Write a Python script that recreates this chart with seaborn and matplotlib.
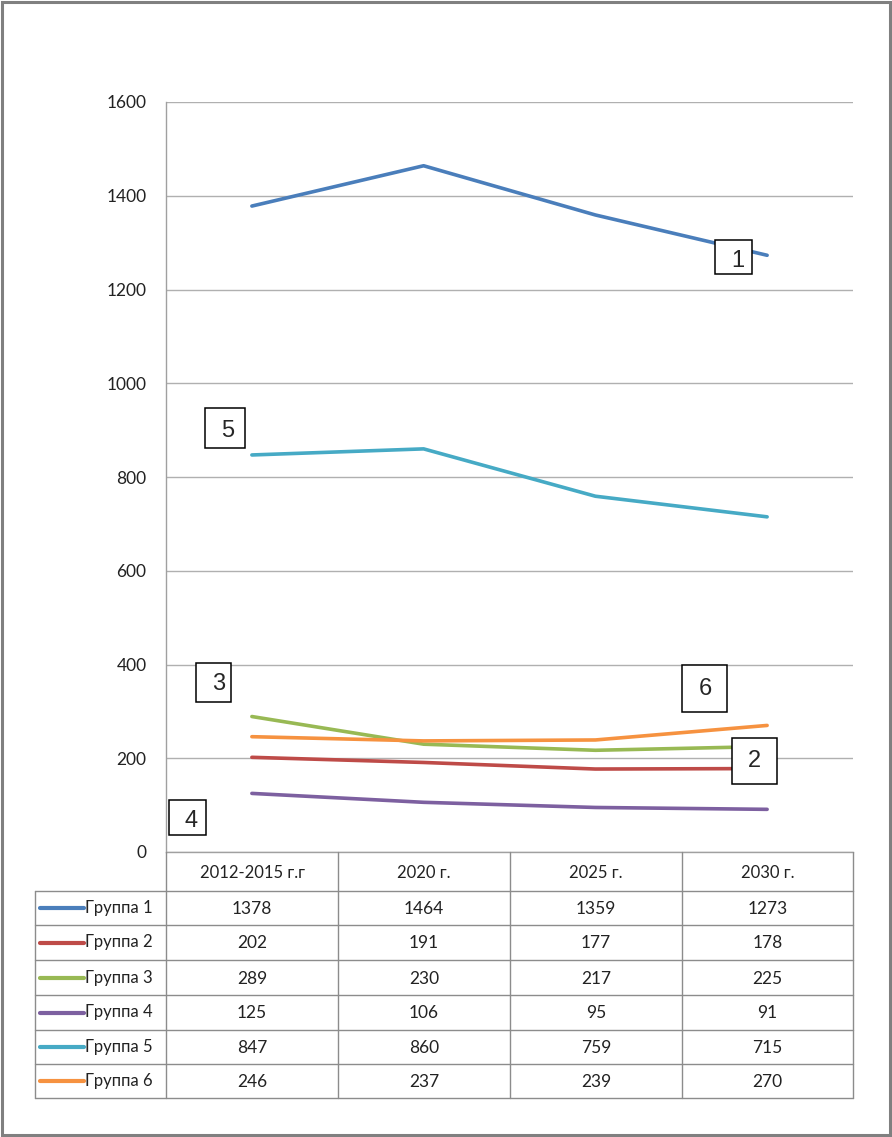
import pandas as pd
import matplotlib
matplotlib.use('Agg')
import matplotlib.pyplot as plt
import seaborn as sns
from matplotlib.patches import Rectangle

# data
periods = ['2012-2015 г.г', '2020 г.', '2025 г.', '2030 г.']
groups = ['Группа 1', 'Группа 2', 'Группа 3', 'Группа 4', 'Группа 5', 'Группа 6']
g1 = [1378, 1464, 1359, 1273]
g2 = [202, 191, 177, 178]
g3 = [289, 230, 217, 225]
g4 = [125, 106, 95, 91]
g5 = [847, 860, 759, 715]
g6 = [246, 237, 239, 270]
values = [g1, g2, g3, g4, g5, g6]
colors = ['#4A7EBB', '#BE4B48', '#98B954', '#7D60A0', '#46AAC5', '#F69240']

rows = []
for name, vals in zip(groups, values):
    for i, v in enumerate(vals):
        rows.append({'group': name, 'pos': i, 'value': v})
df = pd.DataFrame(rows)

sns.set_style('white')
plt.rcParams['font.family'] = ['Lato', 'DejaVu Sans']

W, H = 892, 1137
fig = plt.figure(figsize=(W / 100, H / 100), dpi=100)
ax = fig.add_axes([166 / W, (H - 852) / H, 687 / W, 750 / H])

sns.lineplot(data=df, x='pos', y='value', hue='group', palette=colors,
             linewidth=2.6, legend=False, ax=ax)
ax.set_xlim(-0.5, 3.5)
ax.set_ylim(0, 1600)
ax.set_yticks(range(0, 1601, 200))
ax.set_xticks([])
ax.set_xlabel('')
ax.set_ylabel('')
ax.grid(axis='y', color='#b0b0b0', linewidth=1)
ax.set_axisbelow(True)
for s in ['top', 'right']:
    ax.spines[s].set_visible(False)
for s in ['left', 'bottom']:
    ax.spines[s].set_color('#a0a0a0')
    ax.spines[s].set_linewidth(1)
ax.tick_params(axis='y', length=0, pad=14, labelsize=12.5, labelcolor='#222222')

# overlay for labels, table and frame, in pixel coordinates
ov = fig.add_axes([0, 0, 1, 1], facecolor='none')
ov.set_xlim(0, W)
ov.set_ylim(H, 0)
ov.axis('off')

# number labels in boxes: text, box (x0, y0, x1, y1), text centre
box_labels = [('1', (715, 240, 752, 274), (738, 261)),
              ('5', (205, 408, 245, 448), (228, 431)),
              ('3', (196, 663, 231, 702), (219, 684)),
              ('4', (169, 800, 206, 835), (191, 821)),
              ('6', (682, 665, 727, 712), (705, 689)),
              ('2', (732, 738, 777, 784), (754, 761))]
for t, (x0, y0, x1, y1), (tx, ty) in box_labels:
    ov.add_patch(Rectangle((x0, y0), x1 - x0, y1 - y0, fc='white', ec='black',
                           lw=1.1, zorder=5))
    ov.text(tx, ty, t, ha='center', va='center', fontsize=17,
            family='Liberation Sans', zorder=6)

lc = '#8c8c8c'
col_x = [166, 338, 510, 682, 853]
row_y = [852, 891, 925, 960, 995, 1030, 1064, 1098]

# header row
for x in col_x:
    ov.plot([x, x], [row_y[0], row_y[1]], color=lc, lw=1)
for i, p in enumerate(periods):
    ov.text((col_x[i] + col_x[i + 1]) / 2, (row_y[0] + row_y[1]) / 2 + 1, p,
            ha='center', va='center', fontsize=12, color='#222222')
# body
for y in row_y[1:]:
    ov.plot([35, 853], [y, y], color=lc, lw=1)
for x in [35] + col_x:
    ov.plot([x, x], [row_y[1], row_y[-1]], color=lc, lw=1)
for r, (name, vals) in enumerate(zip(groups, values)):
    yc = (row_y[r + 1] + row_y[r + 2]) / 2
    ov.plot([40, 84], [yc, yc], color=colors[r], lw=3, solid_capstyle='round')
    ov.text(85, yc, name, ha='left', va='center', fontsize=12, color='#222222')
    for i, v in enumerate(vals):
        ov.text((col_x[i] + col_x[i + 1]) / 2, yc + 1, str(v),
                ha='center', va='center', fontsize=12.5, color='#222222')

# outer frame
ov.add_patch(Rectangle((2, 1.5), 887.5, 1133, fill=False, ec='#808080', lw=2.2))

fig.savefig('out.png', dpi=100)
